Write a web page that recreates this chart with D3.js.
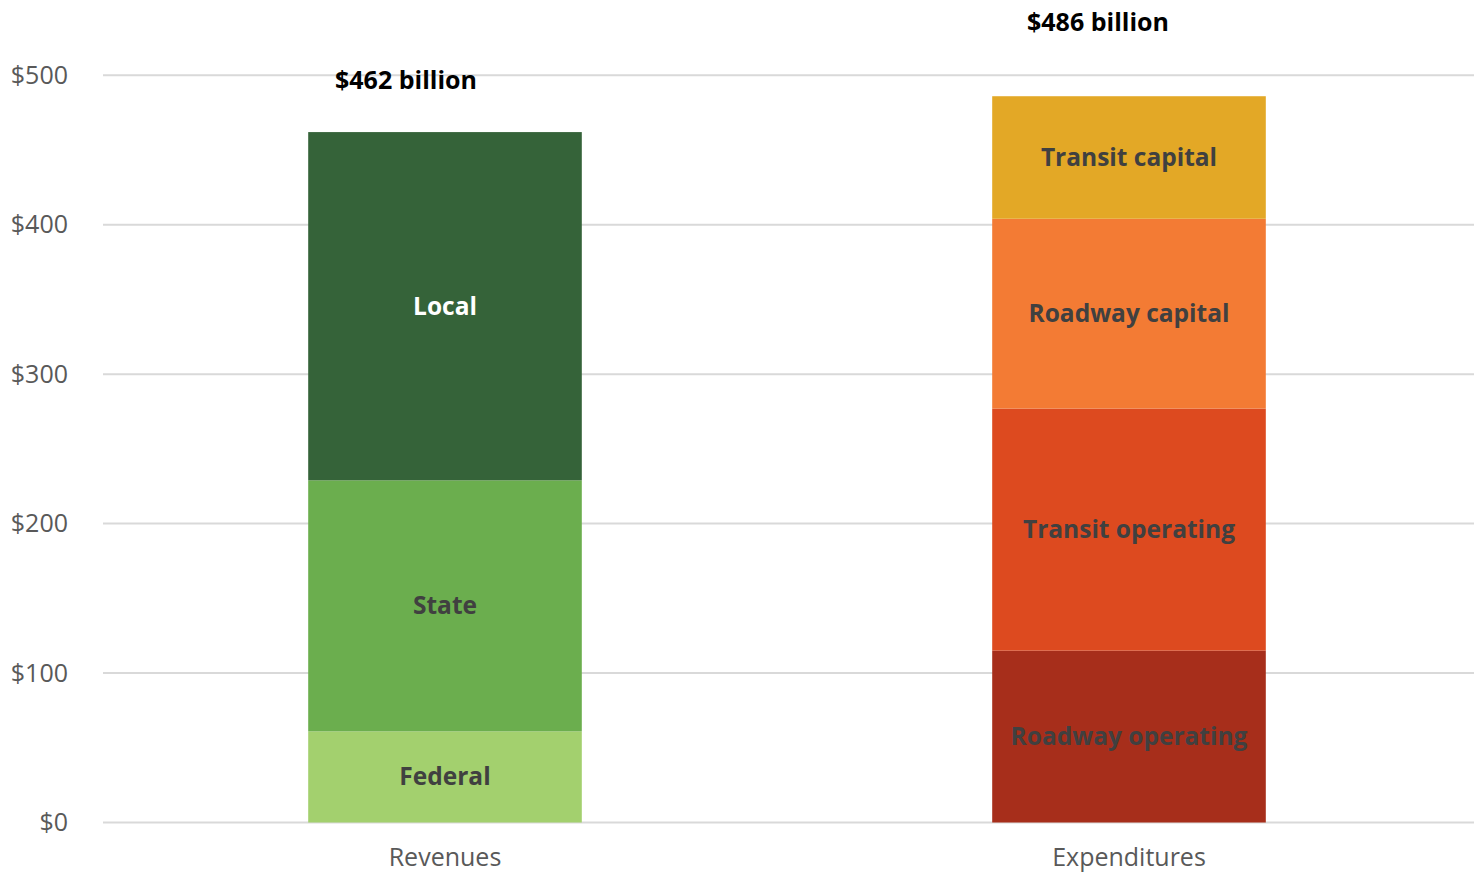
<!DOCTYPE html>
<html lang="en">

<head>
  <meta charset="UTF-8">
  <title>Revenues and expenditures</title>
  <style>
    body {
      margin: 0;
      background: #fff;
    }

    text {
      font-family: "Open Sans", "Noto Sans", sans-serif;
    }

    .grid line {
      stroke: #d9d9d9;
      stroke-width: 2px;
    }

    .tick-label {
      font-size: 25px;
      fill: #595959;
    }

    .seg-label {
      font-size: 24.5px;
      font-weight: 700;
      fill: #404040;
    }

    .total-label {
      font-size: 25px;
      font-weight: 700;
      fill: #000;
    }
  </style>
</head>

<body>
  <script src="https://d3js.org/d3.v7.min.js"></script>
  <script>
    // data, in billions of dollars
    const categories = ['Revenues', 'Expenditures'];
    const revenueParts = ['Federal', 'State', 'Local'];
    const revenueValues = [61, 168, 233];
    const expenditureParts = ['Roadway operating', 'Transit operating', 'Roadway capital', 'Transit capital'];
    const expenditureValues = [115, 162, 127, 82];
    const yTicks = [0, 100, 200, 300, 400, 500];

    const revenueColors = ['#a3d06e', '#6bae4e', '#356339'];
    const expenditureColors = ['#a72e1b', '#dd4a1f', '#f37b34', '#e3a826'];
    const revenueTextColors = ['#404040', '#404040', '#ffffff'];
    const expenditureTextColors = ['#404040', '#404040', '#404040', '#404040'];

    const width = 1474, height = 875;

    const svg = d3.select('body')
      .append('svg')
      .attr('width', width)
      .attr('height', height);

    const x = d3.scaleBand()
      .domain(categories)
      .range([103, 1471])
      .paddingInner(0.6)
      .paddingOuter(0.3);

    const y = d3.scaleLinear()
      .domain([0, 500])
      .range([822.5, 75.3]);

    // gridlines
    svg.append('g')
      .attr('class', 'grid')
      .selectAll('line')
      .data(yTicks)
      .enter()
      .append('line')
      .attr('x1', 103)
      .attr('x2', width)
      .attr('y1', d => y(d))
      .attr('y2', d => y(d));

    // y axis labels
    svg.append('g')
      .selectAll('text')
      .data(yTicks)
      .enter()
      .append('text')
      .attr('class', 'tick-label')
      .attr('x', 68)
      .attr('y', d => y(d))
      .attr('dy', '0.35em')
      .attr('text-anchor', 'end')
      .text(d => '$' + d);

    // category labels
    svg.append('g')
      .selectAll('text')
      .data(categories)
      .enter()
      .append('text')
      .attr('class', 'tick-label')
      .attr('x', d => x(d) + x.bandwidth() / 2)
      .attr('y', 857)
      .attr('dy', '0.35em')
      .attr('text-anchor', 'middle')
      .text(d => d);

    // build stacked segments
    function stack(cat, names, values, colors, textColors) {
      let base = 0;
      return names.map((name, i) => {
        const seg = { cat, name, y0: base, y1: base + values[i], color: colors[i], textColor: textColors[i] };
        base += values[i];
        return seg;
      });
    }

    const segments = stack('Revenues', revenueParts, revenueValues, revenueColors, revenueTextColors)
      .concat(stack('Expenditures', expenditureParts, expenditureValues, expenditureColors, expenditureTextColors));

    svg.append('g')
      .selectAll('rect')
      .data(segments)
      .enter()
      .append('rect')
      .attr('x', d => x(d.cat))
      .attr('width', x.bandwidth())
      .attr('y', d => y(d.y1))
      .attr('height', d => y(d.y0) - y(d.y1))
      .attr('fill', d => d.color);

    svg.append('g')
      .selectAll('text')
      .data(segments)
      .enter()
      .append('text')
      .attr('class', 'seg-label')
      .attr('x', d => x(d.cat) + x.bandwidth() / 2)
      .attr('y', d => y((d.y0 + d.y1) / 2))
      .attr('dy', '0.35em')
      .attr('text-anchor', 'middle')
      .style('fill', d => d.textColor)
      .text(d => d.name);

    // totals, placed as free text boxes above each bar
    const totals = [d3.sum(revenueValues), d3.sum(expenditureValues)];
    const totalShiftX = [-39, -31];
    const totalShiftY = [52, 74];
    svg.append('g')
      .selectAll('text')
      .data(categories)
      .enter()
      .append('text')
      .attr('class', 'total-label')
      .attr('x', (d, i) => x(d) + x.bandwidth() / 2 + totalShiftX[i])
      .attr('y', (d, i) => y(totals[i]) - totalShiftY[i])
      .attr('dy', '0.35em')
      .attr('text-anchor', 'middle')
      .text((d, i) => '$' + totals[i] + ' billion');
  </script>
</body>

</html>
